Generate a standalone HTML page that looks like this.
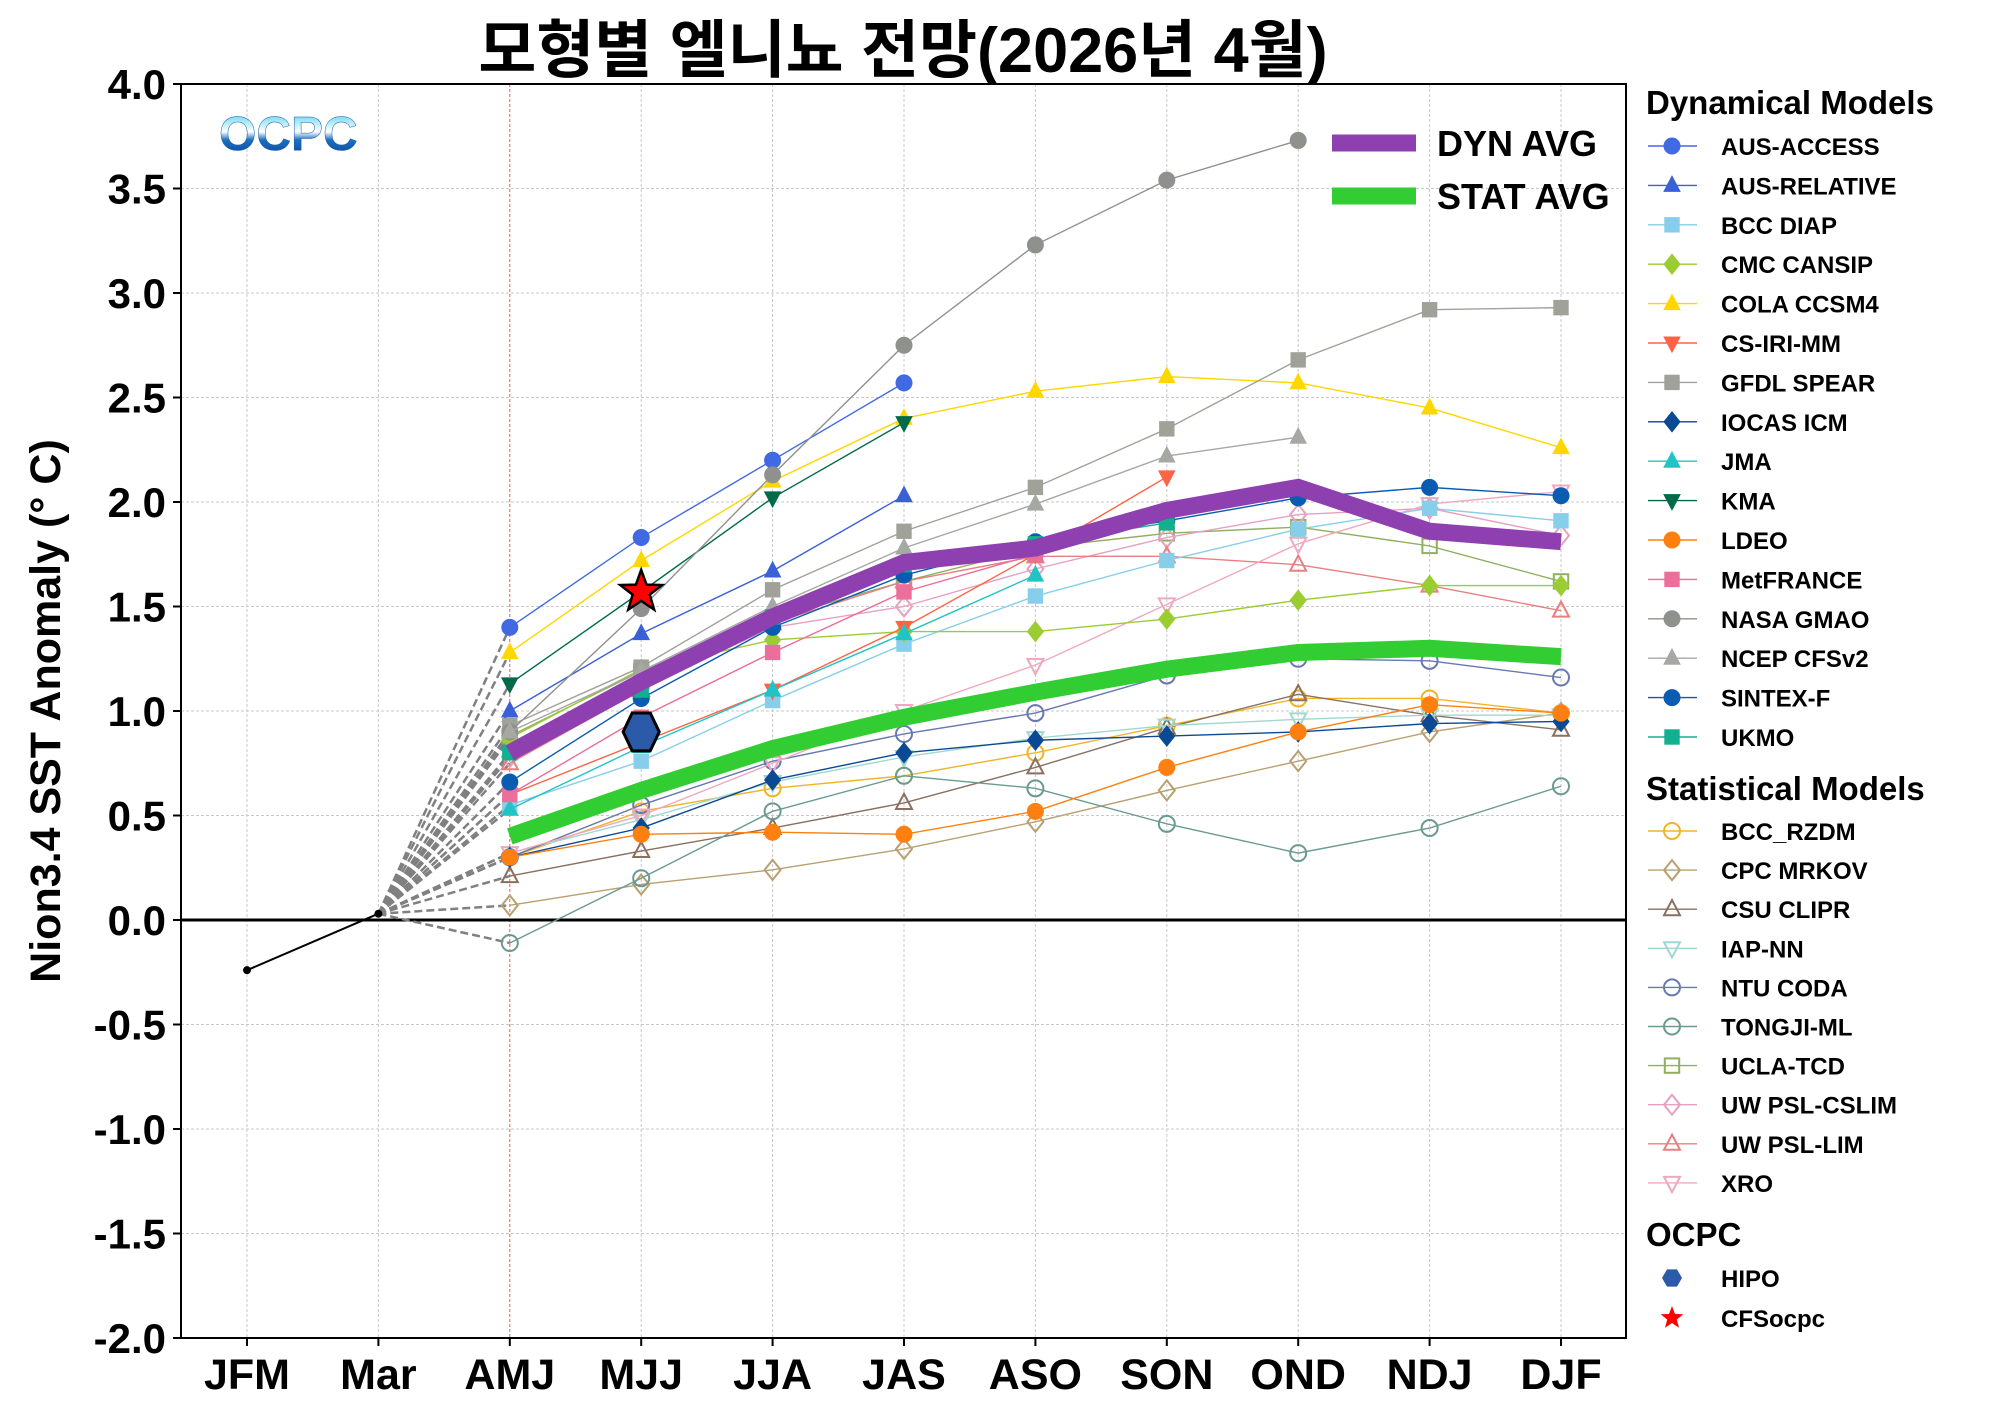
<!DOCTYPE html>
<html><head><meta charset="utf-8">
<style>
html,body{margin:0;padding:0;background:#fff;}
svg{display:block;font-family:"Liberation Sans","Noto Sans CJK KR",sans-serif;}
</style></head>
<body>
<svg id="chart" width="2000" height="1416" viewBox="0 0 2000 1416" xmlns="http://www.w3.org/2000/svg">
<defs>
<linearGradient id="lg" x1="0" y1="0" x2="0" y2="1">
<stop offset="0" stop-color="#38c8f0"/><stop offset="0.45" stop-color="#ffffff"/><stop offset="0.6" stop-color="#1a70c0"/><stop offset="1" stop-color="#0a3a90"/>
</linearGradient>
</defs>
<text x="903" y="72" text-anchor="middle" font-size="63" font-weight="bold" fill="#000">모형별 엘니뇨 전망(2026년 4월)</text>
<g id="grid"></g>
<g id="yticks"></g>
<g id="xticks"></g>
<text transform="translate(60,711) rotate(-90)" text-anchor="middle" font-size="43" font-weight="bold">Nion3.4 SST Anomaly (° C)</text>
<text x="219" y="150" font-size="48" font-weight="bold" fill="url(#lg)" stroke="#1a5aa8" stroke-width="0.5">OCPC</text>
<g id="series"></g>
<rect x="181" y="84" width="1445" height="1254" fill="none" stroke="#000" stroke-width="2"/>
<g id="inlegend"></g>
<g id="legend"></g>
</svg>
<script>
const categories=["JFM","Mar","AMJ","MJJ","JJA","JAS","ASO","SON","OND","NDJ","DJF"];
const yTicks=[4.0,3.5,3.0,2.5,2.0,1.5,1.0,0.5,0.0,-0.5,-1.0,-1.5,-2.0];
const observed=[-0.24,0.03];
const dynNames=["AUS-ACCESS","AUS-RELATIVE","BCC DIAP","CMC CANSIP","COLA CCSM4","CS-IRI-MM","GFDL SPEAR","IOCAS ICM","JMA","KMA","LDEO","MetFRANCE","NASA GMAO","NCEP CFSv2","SINTEX-F","UKMO"];
const dynValues=[
[1.40,1.83,2.20,2.57],
[1.00,1.37,1.67,2.03],
[0.55,0.76,1.05,1.32,1.55,1.72,1.87,1.97,1.91],
[0.87,1.20,1.34,1.38,1.38,1.44,1.53,1.60,1.60],
[1.28,1.72,2.10,2.40,2.53,2.60,2.57,2.45,2.26],
[0.60,0.85,1.10,1.40,1.75,2.12],
[0.93,1.21,1.58,1.86,2.07,2.35,2.68,2.92,2.93],
[0.30,0.44,0.67,0.80,0.86,0.88,0.90,0.94,0.95],
[0.53,0.83,1.10,1.37,1.65],
[1.13,1.57,2.02,2.38],
[0.30,0.41,0.42,0.41,0.52,0.73,0.90,1.03,0.99],
[0.60,0.97,1.28,1.57,1.75],
[0.90,1.49,2.13,2.75,3.23,3.54,3.73],
[0.90,1.19,1.50,1.78,1.99,2.22,2.31],
[0.66,1.06,1.40,1.65,1.81,1.91,2.02,2.07,2.03],
[0.80,1.10,1.45,1.70,1.80,1.90]
];
const statNames=["BCC_RZDM","CPC MRKOV","CSU CLIPR","IAP-NN","NTU CODA","TONGJI-ML","UCLA-TCD","UW PSL-CSLIM","UW PSL-LIM","XRO"];
const statValues=[
[0.30,0.52,0.63,0.69,0.80,0.93,1.06,1.06,0.99],
[0.07,0.17,0.24,0.34,0.47,0.62,0.76,0.90,0.99],
[0.21,0.33,0.44,0.56,0.73,0.92,1.08,0.98,0.91],
[0.32,0.48,0.66,0.78,0.87,0.93,0.96,0.98,0.98],
[0.30,0.55,0.76,0.89,0.99,1.17,1.25,1.24,1.16],
[-0.11,0.20,0.52,0.69,0.63,0.46,0.32,0.44,0.64],
[0.88,1.19,1.44,1.62,1.78,1.85,1.88,1.79,1.62],
[0.78,1.11,1.40,1.50,1.68,1.83,1.94,1.97,1.84],
[0.75,1.10,1.42,1.62,1.74,1.74,1.70,1.60,1.48],
[0.32,0.50,0.75,1.00,1.22,1.51,1.80,1.99,2.05]
];
const dynAvg=[0.80,1.14,1.45,1.71,1.78,1.96,2.07,1.86,1.81];
const statAvg=[0.40,0.62,0.82,0.97,1.09,1.20,1.28,1.30,1.26];
const hipoValue=0.90;
const cfsValue=1.57;

const dynColors=["#4169e1","#3a60d8","#87ceeb","#9acd32","#ffd700","#ff6347","#a0a29a","#0a4a94","#20c4c4","#006b4a","#ff8010","#ec6e9a","#8e918c","#a6a8a4","#0a5cb0","#10b090"];
const dynMarkers=["o","^","s","D","^","v","s","D","^","v","o","s","o","^","o","s"];
const statColors=["#f0b429","#b8a070","#8a7060","#a0d8d0","#6878b0","#6a9a90","#90b060","#e8a0c0","#e88080","#f0a8c0"];
const statMarkers=["o","D","^","v","o","o","s","D","^","v"];

const NS="http://www.w3.org/2000/svg";
const X0=247,DX=131.4,Y0=920,DY=209;
const xs=i=>X0+DX*i;
const ys=v=>Y0-v*DY;
function el(tag,attrs,parent){const e=document.createElementNS(NS,tag);for(const k in attrs)e.setAttribute(k,attrs[k]);parent.appendChild(e);return e;}
function marker(type,cx,cy,r,fill,stroke,sw,parent){
  let e;
  if(type==="o")e=el("circle",{cx:cx,cy:cy,r:r},parent);
  else if(type==="s")e=el("rect",{x:cx-r*0.9,y:cy-r*0.9,width:r*1.8,height:r*1.8},parent);
  else if(type==="D")e=el("polygon",{points:`${cx},${cy-r*1.25} ${cx+r},${cy} ${cx},${cy+r*1.25} ${cx-r},${cy}`},parent);
  else if(type==="^")e=el("polygon",{points:`${cx},${cy-r*1.15} ${cx+r},${cy+r*0.75} ${cx-r},${cy+r*0.75}`},parent);
  else if(type==="v")e=el("polygon",{points:`${cx},${cy+r*1.15} ${cx+r},${cy-r*0.75} ${cx-r},${cy-r*0.75}`},parent);
  e.setAttribute("fill",fill);e.setAttribute("stroke",stroke);e.setAttribute("stroke-width",sw);
  return e;
}
const grid=document.getElementById("grid");
categories.forEach((c,i)=>{
  const l=el("line",{x1:xs(i),x2:xs(i),y1:84,y2:1338,stroke:i===2?"#e06060":"#c8c8c8","stroke-width":1,"stroke-dasharray":"3,2"},grid);
  
  
});
yTicks.forEach(v=>{
  const l=el("line",{x1:181,x2:1626,y1:ys(v),y2:ys(v),stroke:"#c8c8c8","stroke-width":1,"stroke-dasharray":"3,2"},grid);
  
  
});
const yt=document.getElementById("yticks");
yTicks.forEach(v=>{
  el("line",{x1:173,x2:181,y1:ys(v),y2:ys(v),stroke:"#000","stroke-width":2},yt);
  const t=el("text",{x:166,y:ys(v)+15,"text-anchor":"end","font-size":42,"font-weight":"bold"},yt);
  t.textContent=v.toFixed(1);
  
  
});
const xt=document.getElementById("xticks");
categories.forEach((c,i)=>{
  el("line",{x1:xs(i),x2:xs(i),y1:1338,y2:1346,stroke:"#000","stroke-width":2},xt);
  const t=el("text",{x:xs(i),y:1389,"text-anchor":"middle","font-size":43,"font-weight":"bold"},xt);
  t.textContent=c;
  
  
});
const S=document.getElementById("series");
const z=el("line",{x1:181,x2:1626,y1:ys(0),y2:ys(0),stroke:"#000","stroke-width":3},S);


[...dynValues,...statValues].forEach(vals=>{
  const d=el("line",{x1:xs(1),y1:ys(observed[1]),x2:xs(2),y2:ys(vals[0]),stroke:"#808080","stroke-width":2.5,"stroke-dasharray":"8,4"},S);
  
  
});
const ob=el("polyline",{points:observed.map((v,i)=>`${xs(i)},${ys(v)}`).join(" "),fill:"none",stroke:"#000","stroke-width":2},S);


observed.forEach((v,i)=>{el("circle",{cx:xs(i),cy:ys(v),r:4,fill:"#000"},S);});
function drawSeries(vals,color,mk,filled,name){
  const g=el("g",{},S);
  
  
  el("polyline",{points:vals.map((v,i)=>`${xs(i+2)},${ys(v)}`).join(" "),fill:"none",stroke:color,"stroke-width":1.4},g);
  vals.forEach((v,i)=>{
    if(filled)marker(mk,xs(i+2),ys(v),8,color,color,1,g);
    else marker(mk,xs(i+2),ys(v),8,"none",color,2,g);
  });
}
statValues.forEach((vals,k)=>drawSeries(vals,statColors[k],statMarkers[k],false,"series-"+statNames[k].toLowerCase().replace(/[^a-z0-9]+/g,"-")));
dynValues.forEach((vals,k)=>drawSeries(vals,dynColors[k],dynMarkers[k],true,"series-"+dynNames[k].toLowerCase().replace(/[^a-z0-9]+/g,"-")));
const dl=el("polyline",{points:dynAvg.map((v,i)=>`${xs(i+2)},${ys(v)}`).join(" "),fill:"none",stroke:"#8e3fb0","stroke-width":17,"stroke-linejoin":"miter"},S);


const sl=el("polyline",{points:statAvg.map((v,i)=>`${xs(i+2)},${ys(v)}`).join(" "),fill:"none",stroke:"#32cd32","stroke-width":17},S);


{const cx=xs(3),cy=ys(hipoValue),r=19;const pts=[];for(let a=0;a<6;a++){const t=Math.PI/3*a;pts.push(`${cx+r*Math.cos(t)*0.95},${cy+r*Math.sin(t)*1.15}`);}
const h=el("polygon",{points:pts.join(" "),fill:"#2a5aa8",stroke:"#000","stroke-width":3},S);

}
function starPts(cx,cy,R,r){const p=[];for(let k=0;k<10;k++){const a=-Math.PI/2+k*Math.PI/5;const rr=k%2?r:R;p.push(`${cx+rr*Math.cos(a)},${cy+rr*Math.sin(a)}`);}return p.join(" ");}
const st=el("polygon",{points:starPts(xs(3),ys(cfsValue),22,9),fill:"#ff0000",stroke:"#000","stroke-width":2.5},S);


const IL=document.getElementById("inlegend");
el("line",{x1:1332,x2:1416,y1:143,y2:143,stroke:"#8e3fb0","stroke-width":17},IL);
el("line",{x1:1332,x2:1416,y1:196,y2:196,stroke:"#32cd32","stroke-width":17},IL);
const t1=el("text",{x:1437,y:156,"font-size":36,"font-weight":"bold"},IL);t1.textContent="DYN AVG";


const t2=el("text",{x:1437,y:209,"font-size":36,"font-weight":"bold"},IL);t2.textContent="STAT AVG";


const L=document.getElementById("legend");
function header(txt,y){const t=el("text",{x:1646,y:y,"font-size":33,"font-weight":"bold"},L);t.textContent=txt;

}
function entry(txt,y,color,mk,filled,line){
  const g=el("g",{},L);
  
  
  if(line)el("line",{x1:1648,x2:1697,y1:y,y2:y,stroke:color,"stroke-width":1.4},g);
  if(mk==="hex"){const pts=[];for(let a=0;a<6;a++){const t=Math.PI/3*a;pts.push(`${1672+10*Math.cos(t)},${y+10*Math.sin(t)}`);}el("polygon",{points:pts.join(" "),fill:color},g);}
  else if(mk==="star")el("polygon",{points:starPts(1672,y,12,5),fill:color},g);
  else marker(mk,1672,y,8,filled?color:"none",color,filled?1:2,g);
  const t=el("text",{x:1721,y:y+9,"font-size":24,"font-weight":"bold"},g);t.textContent=txt;
}
header("Dynamical Models",114);
dynNames.forEach((n,k)=>entry(n,146+k*39.4,dynColors[k],dynMarkers[k],true,true));
header("Statistical Models",800);
statNames.forEach((n,k)=>entry(n,831+k*39.1,statColors[k],statMarkers[k],false,true));
header("OCPC",1246);
entry("HIPO",1278,"#2a5aa8","hex",true,false);
entry("CFSocpc",1318,"#ff0000","star",true,false);
</script>
</body></html>
